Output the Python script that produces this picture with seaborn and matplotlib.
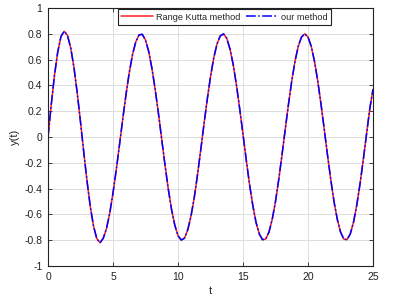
import numpy as np
import pandas as pd
import seaborn as sns
import matplotlib.pyplot as plt
from matplotlib.ticker import FormatStrFormatter

# y(t), one sample every 0.25 from t=0 to t=25
y_rk = [
    0.000, 0.250, 0.480, 0.660, 0.780, 0.820, 0.787, 0.690, 0.537, 0.340,
    0.117, -0.117, -0.340, -0.537, -0.690, -0.787, -0.820, -0.785, -0.710, -0.590,
    -0.434, -0.255, -0.060, 0.139, 0.329, 0.499, 0.638, 0.737, 0.791, 0.796,
    0.752, 0.661, 0.529, 0.365, 0.179, -0.020, -0.217, -0.402, -0.560, -0.682,
    -0.765, -0.799, -0.784, -0.720, -0.613, -0.470, -0.293, -0.099, 0.100, 0.292,
    0.467, 0.613, 0.721, 0.784, 0.799, 0.765, 0.682, 0.559, 0.400, 0.216,
    0.020, -0.178, -0.365, -0.528, -0.661, -0.751, -0.796, -0.791, -0.736, -0.637,
    -0.500, -0.329, -0.139, 0.060, 0.255, 0.434, 0.587, 0.703, 0.775, 0.800,
    0.775, 0.703, 0.586, 0.434, 0.255, 0.060, -0.139, -0.329, -0.500, -0.637,
    -0.736, -0.791, -0.796, -0.752, -0.661, -0.529, -0.365, -0.178, 0.020, 0.217,
    0.370,
]
# the two methods agree to plotting accuracy
y_ours = list(y_rk)
t = np.linspace(0, 25, len(y_rk))

x_ticks = [0, 5, 10, 15, 20, 25]
y_ticks = [-1, -0.8, -0.6, -0.4, -0.2, 0, 0.2, 0.4, 0.6, 0.8, 1]

df = pd.DataFrame({'t': t, 'rk': y_rk, 'ours': y_ours})

sns.set_theme(style='ticks')
plt.rcParams['font.family'] = ['Liberation Sans', 'DejaVu Sans']
plt.rcParams['xtick.direction'] = 'in'
plt.rcParams['ytick.direction'] = 'in'

fig = plt.figure(figsize=(3.97, 3.0), dpi=100)
ax = fig.add_axes([48 / 397, 1 - 266 / 300, 325 / 397, 258 / 300])

sns.lineplot(data=df, x='t', y='rk', ax=ax, color='#ff2020', linewidth=1.1,
             label='Range Kutta method')
sns.lineplot(data=df, x='t', y='ours', ax=ax, color='#0000ff', linewidth=1.1,
             linestyle='-.', label='our method')

ax.set_xlim(0, 25)
ax.set_ylim(-1, 1)
ax.set_xticks(x_ticks)
ax.set_yticks(y_ticks)
ax.yaxis.set_major_formatter(FormatStrFormatter('%g'))
ax.grid(True, color='#dddddd', linewidth=0.7)
ax.tick_params(labelsize=7.5, length=3, width=0.6, colors='#222222',
               top=True, right=True, pad=4)
for s in ax.spines.values():
    s.set_color('#222222')
    s.set_linewidth(0.8)

ax.set_xlabel('t', fontsize=8, labelpad=3)
ax.set_ylabel('y(t)', fontsize=8, labelpad=3)

leg = ax.legend(loc='upper center', bbox_to_anchor=(0.543, 1.0), ncol=2,
                fontsize=6.6, frameon=True, fancybox=False, framealpha=1,
                edgecolor='#222222', borderaxespad=0.1, handlelength=3.4,
                columnspacing=0.6, handletextpad=0.4, borderpad=0.4)
leg.get_frame().set_linewidth(0.8)

fig.savefig('out.png', dpi=100)
plt.close(fig)
